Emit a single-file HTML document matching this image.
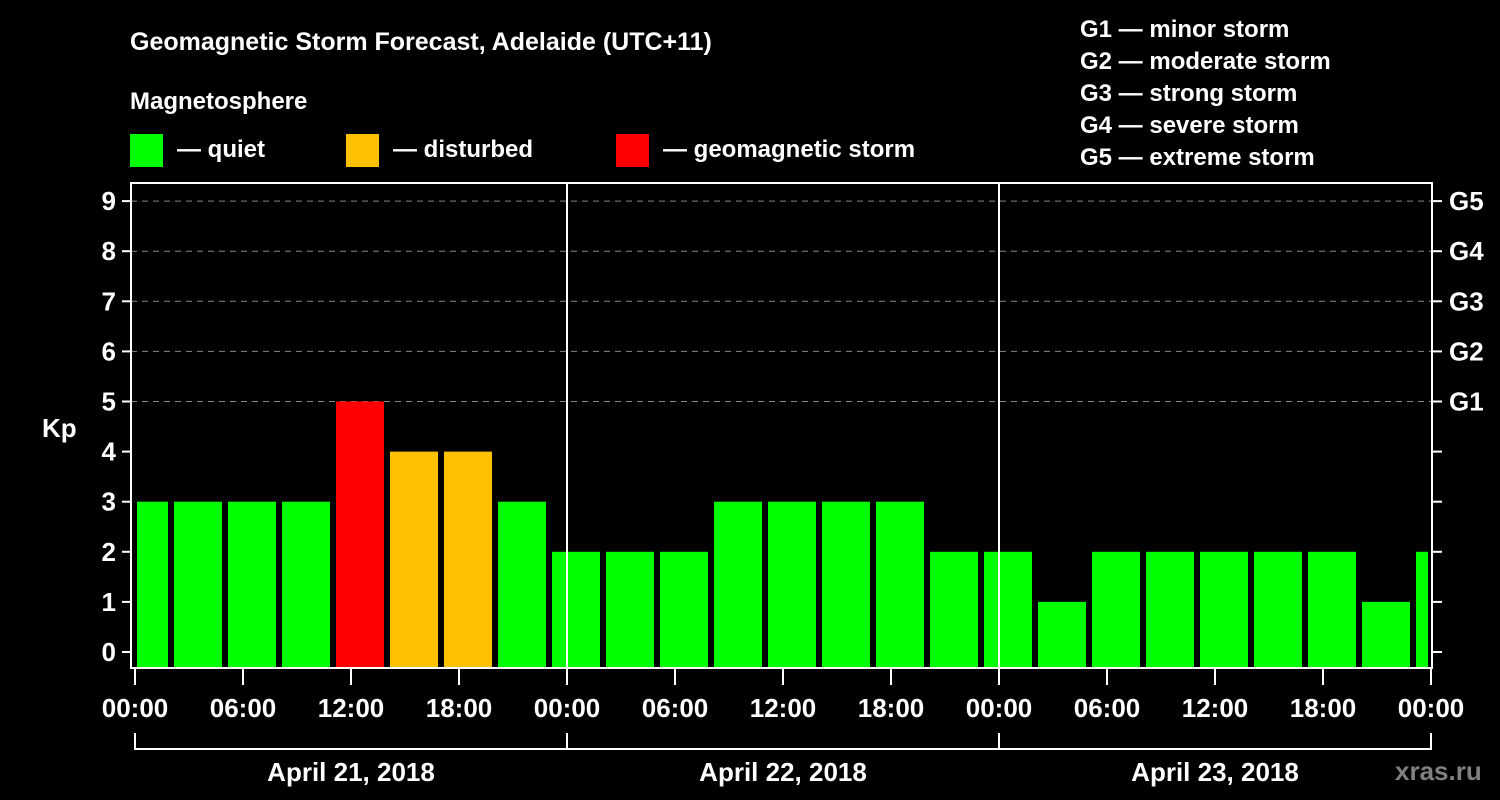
<!DOCTYPE html>
<html><head><meta charset="utf-8"><style>
body{margin:0;background:#000;width:1500px;height:800px;overflow:hidden}
svg{display:block;font-family:"Liberation Sans",Arial,sans-serif;font-weight:bold}
</style></head><body>
<svg id="chart" width="1500" height="800" xmlns="http://www.w3.org/2000/svg">
<text x="130" y="50" fill="#fff" font-size="25">Geomagnetic Storm Forecast, Adelaide (UTC+11)</text>
<text x="130" y="109" fill="#fff" font-size="24">Magnetosphere</text>
<rect x="130" y="134" width="33" height="33" fill="#00ff00"/>
<text x="177" y="157" fill="#fff" font-size="24">— quiet</text>
<rect x="346" y="134" width="33" height="33" fill="#ffc000"/>
<text x="393" y="157" fill="#fff" font-size="24">— disturbed</text>
<rect x="616" y="134" width="33" height="33" fill="#ff0000"/>
<text x="663" y="157" fill="#fff" font-size="24">— geomagnetic storm</text>
<g fill="#fff" font-size="24">
<text x="1080" y="37">G1 — minor storm</text>
<text x="1080" y="69">G2 — moderate storm</text>
<text x="1080" y="101">G3 — strong storm</text>
<text x="1080" y="133">G4 — severe storm</text>
<text x="1080" y="165">G5 — extreme storm</text>
</g>
<text x="42" y="437" fill="#fff" font-size="26">Kp</text>
<text x="1395" y="780" fill="#808080" font-size="26">xras.ru</text>
<g id="grid"></g><g id="bars"></g><g id="axes"></g>
</svg>
<script>
const kpValues=[3,3,3,3,5,4,4,3,2,2,2,3,3,3,3,2,2,1,2,2,2,2,2,1,2];
const yTicks=[0,1,2,3,4,5,6,7,8,9];
const gLabels=["G1","G2","G3","G4","G5"];
const xTickLabels=["00:00","06:00","12:00","18:00","00:00","06:00","12:00","18:00","00:00","06:00","12:00","18:00","00:00"];
const dayLabels=["April 21, 2018","April 22, 2018","April 23, 2018"];
const NS="http://www.w3.org/2000/svg";
const L=131,R=1432,T=183,B=668,X0=135,DAY=432;
const y=v=>652-50.1*v;
const xh=h=>X0+h*DAY/24;
function mk(tag,attrs,parent,txt){const e=document.createElementNS(NS,tag);for(const k in attrs)e.setAttribute(k,attrs[k]);if(txt!==undefined)e.textContent=txt;parent.appendChild(e);return e;}
const grid=document.getElementById('grid'),bars=document.getElementById('bars'),axes=document.getElementById('axes');
yTicks.forEach(v=>{
 if(v>=5){const l=mk('line',{x1:L,x2:R,y1:y(v),y2:y(v),stroke:'#888','stroke-dasharray':'6,5','stroke-width':1},grid);
 
 }
 const t=mk('line',{x1:122,x2:L,y1:y(v),y2:y(v),stroke:'#fff','stroke-width':2},axes);
 
 
 const tr=mk('line',{x1:R,x2:1442,y1:y(v),y2:y(v),stroke:'#fff','stroke-width':2},axes);
 
 
 const lb=mk('text',{x:116,y:y(v)+9,fill:'#fff','font-size':26,'text-anchor':'end'},axes,String(v));
 
 
});
gLabels.forEach((g,i)=>{
 const t=mk('text',{x:1449,y:y(5+i)+9,fill:'#fff','font-size':26},axes,g);
 
 
});
mk('clipPath',{id:'clip'},bars);
mk('rect',{x:137,y:T,width:1428-137,height:B-T},document.getElementById('clip'));
const bg=mk('g',{'clip-path':'url(#clip)'},bars);
kpValues.forEach((v,i)=>{
 const c=v>=5?'#ff0000':(v>=4?'#ffc000':'#00ff00');
 const x=xh(3*i)-15;
 const r=mk('rect',{x:x,y:y(v),width:48,height:B-y(v),fill:c},bg);
 
 
});
[1,2].forEach(d=>{const l=mk('line',{x1:xh(24*d),x2:xh(24*d),y1:T,y2:B,stroke:'#fff','stroke-width':2},axes);
 
 });
const fr=mk('rect',{x:L,y:T,width:R-L,height:B-T,fill:'none',stroke:'#fff','stroke-width':2},axes);


xTickLabels.forEach((s,i)=>{
 const x=xh(6*i);
 const t=mk('line',{x1:x,x2:x,y1:B,y2:685,stroke:'#fff','stroke-width':2},axes);
 
 
 const lb=mk('text',{x:x,y:717,fill:'#fff','font-size':26,'text-anchor':'middle'},axes,s);
 
 
});
const br=mk('path',{d:`M${xh(0)},733V749H${xh(72)}V733`,fill:'none',stroke:'#fff','stroke-width':2},axes);


dayLabels.forEach((s,i)=>{
 const x=xh(24*i);
 if(i>0){const l=mk('line',{x1:x,x2:x,y1:733,y2:749,stroke:'#fff','stroke-width':2},axes);
 
 }
 const t=mk('text',{x:xh(24*i+12),y:781,fill:'#fff','font-size':26,'text-anchor':'middle'},axes,s);
 
 
});
</script>
</body></html>
